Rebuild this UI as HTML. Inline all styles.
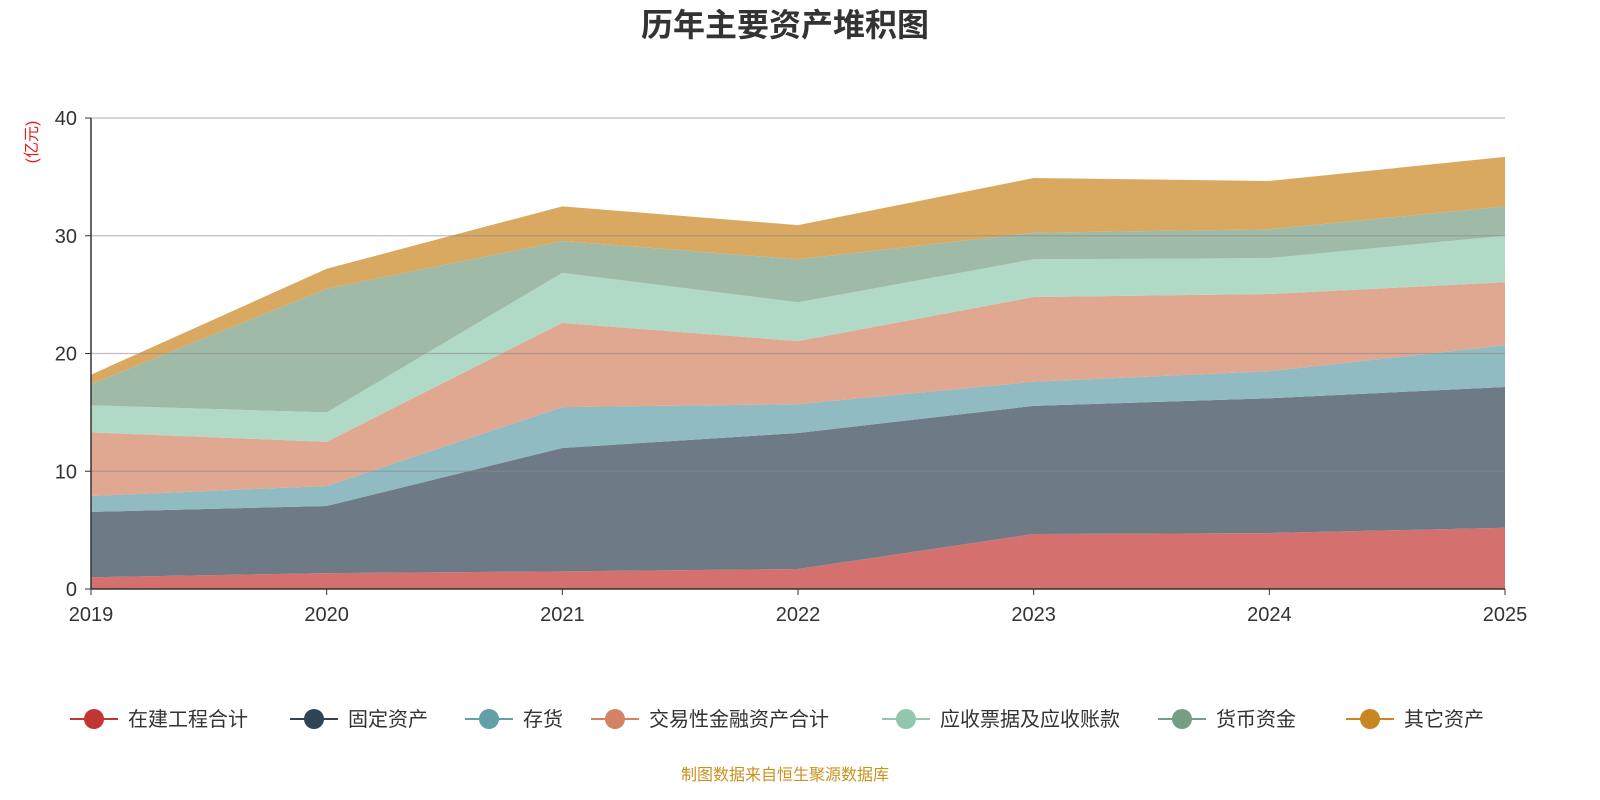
<!DOCTYPE html>
<html><head><meta charset="utf-8"><style>
html,body{margin:0;padding:0;background:#fff;overflow:hidden;width:1600px;height:800px;}
svg{display:block;}
svg text{font-family:"Liberation Sans","Noto Sans CJK SC",sans-serif;}
</style></head><body>
<svg id="chart" width="1600" height="800" xmlns="http://www.w3.org/2000/svg">
<text x="785" y="36" text-anchor="middle" font-size="32" font-weight="bold" fill="#333">历年主要资产堆积图</text>
<text transform="translate(37,142) rotate(-90)" text-anchor="middle" font-size="16" fill="#e02020">(亿元)</text>
<g id="areas"></g><g id="grid"></g><g id="axes"></g><g id="legend"></g>
<text x="785" y="780" text-anchor="middle" font-size="16" fill="#c8921e">制图数据来自恒生聚源数据库</text>
</svg>
<script>
const years=['2019','2020','2021','2022','2023','2024','2025'];
const seriesNames=['在建工程合计','固定资产','存货','交易性金融资产合计','应收票据及应收账款','货币资金','其它资产'];
const zaijian=[1.0,1.35,1.5,1.7,4.67,4.75,5.2];
const guding=[5.55,5.7,10.47,11.55,10.88,11.45,11.95];
const cunhuo=[1.35,1.7,3.48,2.45,2.05,2.3,3.55];
const jiaoyi=[5.4,3.75,7.15,5.35,7.2,6.55,5.35];
const yingshou=[2.3,2.5,4.25,3.3,3.2,3.05,3.95];
const huobi=[1.8,10.5,2.7,3.65,2.25,2.45,2.5];
const qita=[0.8,1.7,2.95,2.9,4.65,4.1,4.2];
const yTicks=[0,10,20,30,40];
const seriesData=[zaijian,guding,cunhuo,jiaoyi,yingshou,huobi,qita];
const lineColors=['#c23531','#2f4554','#61a0a8','#d48265','#91c7ae','#749f83','#ca8622'];
const fillColors=['#d4706d','#6e7b87','#91bbc2','#e0a791','#b0d9c6','#9fbaa6','#d9a962'];
const NS='http://www.w3.org/2000/svg';
const x0=91,x1=1505,y0=589,y1=118;
const xs=i=>x0+(x1-x0)*i/(years.length-1);
const ys=v=>y0-(y0-y1)*v/40;
function mk(t,a,p){const e=document.createElementNS(NS,t);for(const k in a)e.setAttribute(k,a[k]);p.appendChild(e);return e;}
const areas=document.getElementById('areas');
let base=years.map(()=>0);
seriesData.forEach((s,k)=>{
  const top=base.map((b,i)=>b+s[i]);
  let d='M'+top.map((v,i)=>xs(i)+','+ys(v)).join('L');
  for(let i=years.length-1;i>=0;i--)d+='L'+xs(i)+','+ys(base[i]);
  const p=mk('path',{d:d+'Z',fill:fillColors[k]},areas);
  
  
  base=top;
});
const grid=document.getElementById('grid'),axes=document.getElementById('axes');
yTicks.forEach(t=>{
  if(t>0){const l=mk('line',{x1:x0,x2:x1,y1:ys(t),y2:ys(t),stroke:'#888','stroke-opacity':0.55,'stroke-width':1.2},grid);
  
  }
  mk('line',{x1:x0-6,x2:x0,y1:ys(t),y2:ys(t),stroke:'#333'},axes);
  const tx=mk('text',{x:x0-14,y:ys(t)+7,'text-anchor':'end','font-size':20,fill:'#333'},axes);
  tx.textContent=t;
  
  
});
mk('line',{x1:x0,x2:x0,y1:y1,y2:y0,stroke:'#333','stroke-width':1.5},axes);
mk('line',{x1:x0,x2:x1,y1:y0,y2:y0,stroke:'#333','stroke-width':1.5},axes);
years.forEach((y,i)=>{
  mk('line',{x1:xs(i),x2:xs(i),y1:y0,y2:y0+6,stroke:'#333'},axes);
  const tx=mk('text',{x:xs(i),y:621,'text-anchor':'middle','font-size':20,fill:'#333'},axes);
  tx.textContent=y;
  
  
});
const lg=document.getElementById('legend');
const lx=[70,290,465,591,882,1158,1346];
seriesNames.forEach((n,k)=>{
  const g=mk('g',{},lg);
  
  
  mk('line',{x1:lx[k],x2:lx[k]+48,y1:719,y2:719,stroke:lineColors[k],'stroke-width':2},g);
  mk('circle',{cx:lx[k]+24,cy:719,r:10,fill:lineColors[k]},g);
  const t=mk('text',{x:lx[k]+58,y:726,'font-size':20,fill:'#333'},g);
  t.textContent=n;
});
</script>
</body></html>
